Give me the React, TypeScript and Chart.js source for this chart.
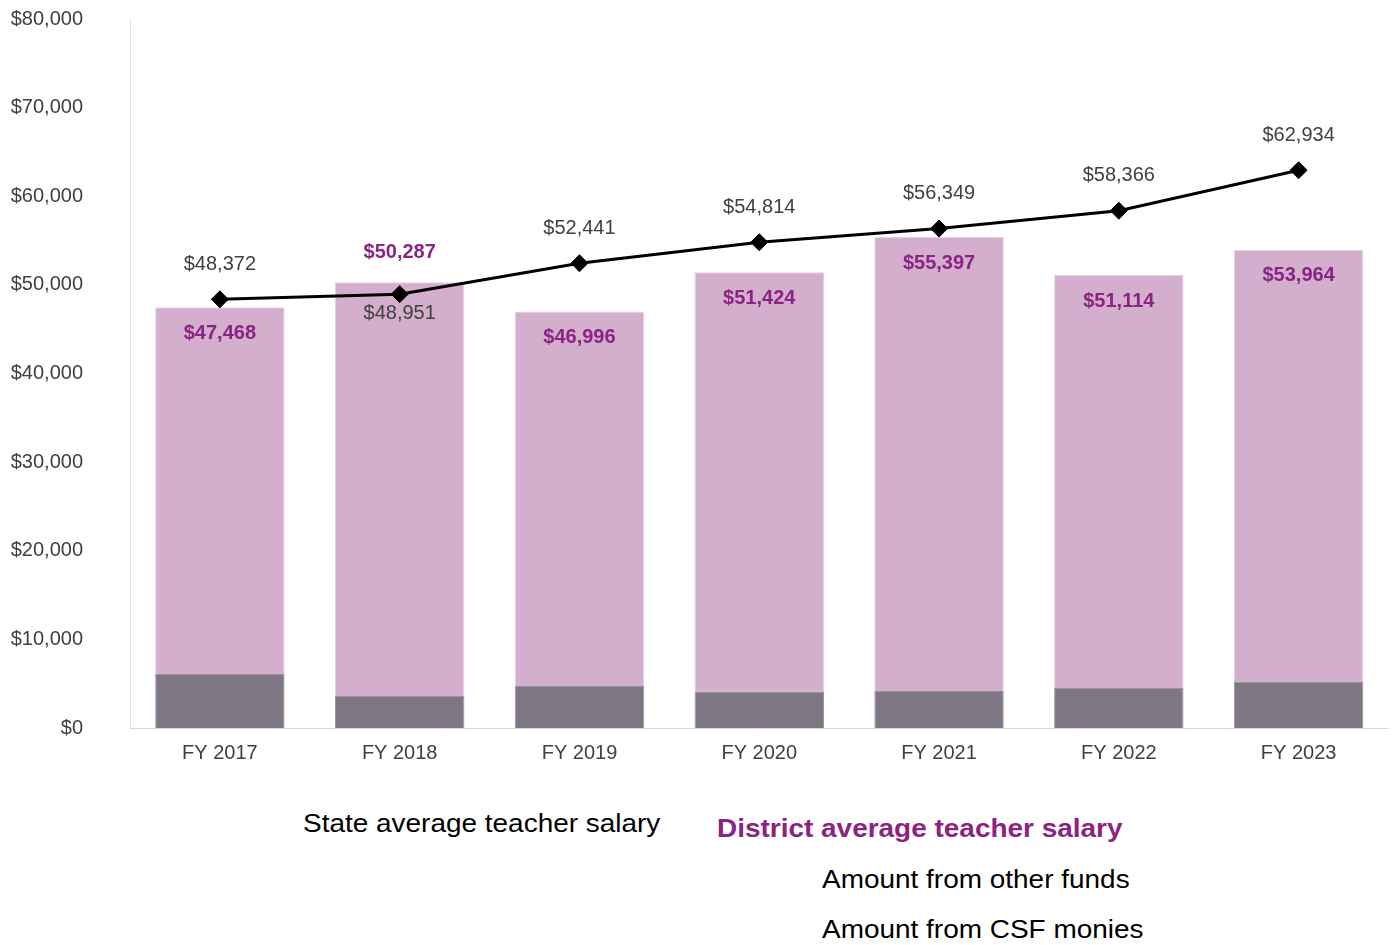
import React, { useEffect, useRef } from "react";
import { Chart, registerables } from "chart.js";

Chart.register(...registerables);

const categories = ["FY 2017", "FY 2018", "FY 2019", "FY 2020", "FY 2021", "FY 2022", "FY 2023"];
const districtAverage = [47468, 50287, 46996, 51424, 55397, 51114, 53964];
const csfMonies = [6090, 3600, 4740, 4140, 4170, 4510, 5270];
const stateAverage = [48372, 48951, 52441, 54814, 56349, 58366, 62934];
const otherFunds = districtAverage.map((v, i) => v - csfMonies[i]);

const FONT = "'Liberation Sans', Arial, sans-serif";
const PURPLE = "#8b2383";

const fmt = (v: number) => "$" + Math.round(v).toLocaleString("en-US");

const labelPlugin = {
  id: "valueLabels",
  afterDatasetsDraw(chart: any) {
    const ctx = chart.ctx;
    ctx.save();
    ctx.textAlign = "center";
    ctx.textBaseline = "middle";
    const otherMeta = chart.getDatasetMeta(1);
    ctx.font = `bold 20px ${FONT}`;
    ctx.fillStyle = PURPLE;
    otherMeta.data.forEach((el: any, i: number) => {
      const top = el.y;
      const y = i === 1 ? top - 30 : top + 26;
      ctx.fillText(fmt(districtAverage[i]), el.x, y);
    });
    const lineMeta = chart.getDatasetMeta(2);
    ctx.font = `20px ${FONT}`;
    ctx.fillStyle = "#404040";
    lineMeta.data.forEach((el: any, i: number) => {
      const y = i === 1 ? el.y + 19 : el.y - 35;
      ctx.fillText(fmt(stateAverage[i]), el.x, y);
    });
    ctx.restore();
  },
};

export default function App() {
  const canvasRef = useRef<HTMLCanvasElement | null>(null);

  useEffect(() => {
    document.body.style.margin = "0";
    const canvas = canvasRef.current;
    if (!canvas) return;
    const chart = new Chart(canvas, {
      type: "bar",
      data: {
        labels: categories,
        datasets: [
          {
            type: "bar",
            label: "Amount from CSF monies",
            data: csfMonies,
            backgroundColor: "#7e7682",
            borderColor: "#9b949e",
            borderWidth: 1,
            order: 1,
            stack: "s",
            barPercentage: 0.72,
            categoryPercentage: 1,
          },
          {
            type: "bar",
            label: "Amount from other funds",
            data: otherFunds,
            backgroundColor: "#d3aecd",
            borderColor: "#e6d0e2",
            borderWidth: 1,
            order: 2,
            stack: "s",
            barPercentage: 0.72,
            categoryPercentage: 1,
          },
          {
            type: "line",
            label: "State average teacher salary",
            data: stateAverage,
            borderColor: "#000000",
            backgroundColor: "#000000",
            borderWidth: 3,
            pointStyle: "rectRot",
            pointRadius: 8.5,
            pointBorderWidth: 1,
            pointBackgroundColor: "#000000",
            pointBorderColor: "#000000",
            tension: 0,
            order: 0,
          },
        ],
      },
      options: {
        animation: false,
        responsive: false,
        maintainAspectRatio: false,
        layout: { padding: { top: 19, right: 6, left: 0, bottom: 0 } },
        plugins: {
          legend: { display: false },
          tooltip: { enabled: false },
        },
        scales: {
          x: {
            stacked: true,
            grid: { display: false, drawTicks: true, tickLength: 10 },
            border: { display: true, color: "#d9d9d9", width: 1 },
            ticks: {
              color: "#404040",
              font: { family: FONT, size: 20 },
              padding: 3,
            },
            afterFit(scale: any) {
              scale.height = 52;
            },
          },
          y: {
            stacked: true,
            min: 0,
            max: 80000,
            grid: { display: false, drawTicks: true, tickLength: 43 },
            border: { display: true, color: "#e3e3e3", width: 1 },
            ticks: {
              stepSize: 10000,
              color: "#404040",
              font: { family: FONT, size: 20 },
              padding: 4,
              callback: (v: any) => fmt(Number(v)),
            },
            afterFit(scale: any) {
              scale.width = 130;
            },
          },
        },
      },
      plugins: [labelPlugin],
    });
    return () => chart.destroy();
  }, []);

  const legendBase: React.CSSProperties = {
    position: "absolute",
    fontFamily: FONT,
    fontSize: 26,
    lineHeight: "26px",
    whiteSpace: "nowrap",
    color: "#000000",
    transform: "scaleX(1.075)",
    transformOrigin: "left center",
  };

  return (
    <div
      style={{
        position: "relative",
        width: 1394,
        height: 945,
        background: "#ffffff",
        overflow: "hidden",
      }}
    >
      <canvas ref={canvasRef} width={1398} height={780} style={{ display: "block" }} />
      <div style={{ ...legendBase, left: 303, top: 810 }}>State average teacher salary</div>
      <div style={{ ...legendBase, left: 717, top: 815, color: PURPLE, fontWeight: "bold" }}>
        District average teacher salary
      </div>
      <div style={{ ...legendBase, left: 822, top: 866 }}>Amount from other funds</div>
      <div style={{ ...legendBase, left: 822, top: 916 }}>Amount from CSF monies</div>
    </div>
  );
}
